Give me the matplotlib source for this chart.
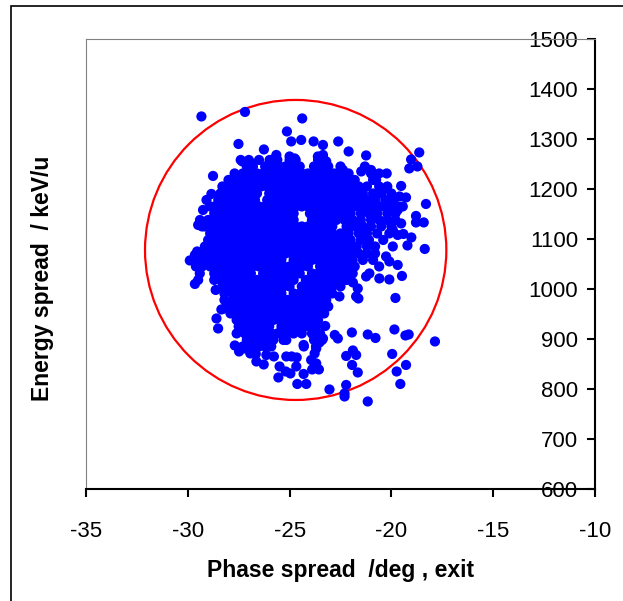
import numpy as np
import matplotlib
matplotlib.use("Agg")
from matplotlib import pyplot as plt
from matplotlib.patches import Ellipse, Rectangle

# energy levels (keV/u) of the dense part of the bunch, one row of phases per level
row_energy = [1258, 1245, 1231, 1218, 1205, 1191, 1178, 1165, 1151, 1138,
              1125, 1111, 1098, 1085, 1071, 1058, 1045, 1031, 1018, 1005,
              991, 978, 965, 951, 938, 925, 911, 898, 885]
row_phase = [
    [-27.4, -27.0, -26.5, -25.9, -25.6, -25.0, -24.7, -23.6, -23.3],
    [-27.1, -26.8, -26.2, -25.8, -25.5, -25.2, -24.9, -24.5, -23.8, -23.4, -23.1, -22.5, -21.3],
    [-27.7, -27.3, -26.9, -26.6, -26.3, -26.0, -25.7, -25.4, -25.1, -24.8, -24.4, -24.1,
     -23.8, -23.5, -23.1, -22.8, -22.4, -22.1, -21.0, -20.6],
    [-28.0, -27.6, -27.3, -27.0, -26.7, -26.4, -26.1, -25.8, -25.5, -25.2, -24.9, -24.6,
     -24.3, -24.0, -23.7, -23.4, -23.0, -22.6, -22.2, -21.8, -20.9],
    [-28.3, -27.9, -27.6, -27.3, -27.0, -26.7, -26.4, -26.1, -25.8, -25.5, -25.2, -24.9,
     -24.6, -24.3, -24.0, -23.7, -23.4, -23.1, -22.8, -22.4, -22.0, -21.6, -21.2, -20.6,
     -20.2],
    [-28.4, -28.1, -27.8, -27.5, -27.2, -26.9, -26.6, -26.0, -25.7, -25.4, -25.1, -24.8,
     -24.5, -24.2, -23.9, -23.6, -23.3, -23.0, -22.6, -22.2, -21.8, -21.4, -20.9, -20.5,
     -20.0],
    [-28.5, -28.2, -27.9, -27.6, -27.3, -27.0, -26.7, -26.1, -25.8, -25.5, -25.2, -24.9,
     -24.6, -24.3, -24.0, -23.7, -23.4, -23.1, -22.8, -22.4, -22.0, -21.6, -21.2, -20.8,
     -20.3, -19.9],
    [-28.9, -28.6, -28.3, -28.0, -27.7, -27.4, -27.1, -26.8, -26.5, -26.2, -25.9, -25.6,
     -25.3, -25.0, -24.7, -24.4, -24.1, -23.8, -23.5, -23.2, -22.9, -22.5, -22.1, -21.7,
     -21.3, -20.9, -20.5, -20.1, -19.7],
    [-28.7, -28.4, -28.1, -27.8, -27.5, -27.2, -26.9, -26.6, -26.3, -26.0, -25.7, -25.4,
     -25.1, -24.8, -24.0, -23.7, -23.4, -23.1, -22.8, -22.4, -22.0, -21.5, -21.1, -20.7,
     -20.2, -19.8],
    [-29.4, -29.0, -28.7, -28.4, -28.1, -27.8, -27.5, -27.2, -26.9, -26.6, -26.3, -26.0,
     -25.7, -25.4, -25.1, -24.8, -23.9, -23.6, -23.3, -23.0, -22.7, -22.3, -21.9, -21.5,
     -21.0, -20.6, -20.2, -19.8],
    [-29.3, -28.9, -28.6, -28.3, -28.0, -27.7, -27.4, -27.1, -26.8, -26.5, -26.2, -25.9,
     -25.6, -25.3, -25.0, -24.7, -24.4, -24.1, -23.8, -23.5, -23.2, -22.9, -22.2, -21.8,
     -21.4, -21.0, -20.5, -20.0],
    [-28.9, -28.6, -28.3, -28.0, -27.7, -27.4, -27.1, -26.8, -26.5, -26.2, -25.9, -25.6,
     -25.3, -25.0, -24.7, -24.4, -24.1, -23.8, -23.5, -23.2, -22.9, -22.5, -22.1, -21.6,
     -21.2, -20.7, -20.1],
    [-29.0, -28.6, -28.3, -28.0, -27.7, -27.4, -27.1, -26.8, -26.5, -26.2, -25.9, -25.6,
     -25.3, -25.0, -24.7, -24.4, -24.1, -23.8, -23.5, -23.2, -22.8, -22.4, -22.0, -21.5,
     -21.1, -20.4],
    [-28.9, -28.6, -28.3, -28.0, -27.7, -27.4, -27.1, -26.8, -26.5, -26.2, -25.9, -25.6,
     -25.3, -25.0, -24.7, -24.4, -24.1, -23.8, -23.5, -23.2, -22.9, -22.5, -22.1, -21.7,
     -21.2, -20.8],
    [-29.4, -29.1, -28.8, -28.5, -28.2, -27.9, -27.6, -27.3, -27.0, -26.7, -26.4, -26.1,
     -25.8, -25.5, -25.2, -24.9, -24.6, -24.3, -24.0, -23.7, -23.4, -23.1, -22.8, -22.4,
     -22.0, -21.6, -21.2, -20.8],
    [-29.6, -29.3, -28.7, -28.4, -28.1, -27.8, -27.5, -27.2, -26.9, -26.6, -26.3, -26.0,
     -25.7, -25.4, -24.8, -24.5, -24.2, -23.9, -23.6, -23.3, -23.0, -22.7, -22.3, -21.9,
     -21.4, -20.9],
    [-29.3, -28.9, -28.6, -28.3, -28.0, -27.7, -27.4, -27.1, -26.8, -26.5, -26.2, -25.9,
     -25.6, -25.3, -25.0, -24.7, -24.4, -24.1, -23.5, -23.2, -22.9, -22.6, -22.2, -21.8,
     -20.6],
    [-28.7, -28.4, -28.1, -27.8, -27.5, -27.2, -26.9, -26.3, -26.0, -25.7, -25.4, -25.1,
     -24.8, -24.5, -23.9, -23.6, -23.3, -23.0, -22.7, -22.3, -21.9],
    [-28.7, -28.4, -28.1, -27.8, -27.5, -27.2, -26.9, -26.6, -26.3, -26.0, -25.7, -25.4,
     -25.1, -24.8, -24.2, -23.9, -23.6, -23.3, -23.0, -22.6, -22.2],
    [-28.3, -28.0, -27.7, -27.4, -27.1, -26.8, -26.5, -26.2, -25.9, -25.6, -25.3, -25.0,
     -24.4, -24.1, -23.8, -23.5, -23.2, -22.9, -22.5],
    [-28.2, -27.8, -27.5, -27.2, -26.9, -26.6, -26.3, -26.0, -25.7, -25.4, -24.8, -24.5,
     -24.2, -23.9, -23.6, -23.3, -22.9],
    [-28.2, -27.8, -27.5, -27.2, -26.9, -26.6, -26.3, -26.0, -25.7, -25.4, -25.1, -24.8,
     -24.5, -24.2, -23.9, -23.6, -23.2],
    [-28.0, -27.7, -27.4, -27.1, -26.8, -26.5, -26.2, -25.9, -25.6, -25.3, -25.0, -24.7,
     -24.4, -24.1, -23.8, -23.5, -23.1],
    [-27.9, -27.6, -27.3, -27.0, -26.7, -26.4, -26.1, -25.8, -25.5, -25.2, -24.9, -24.6,
     -24.3, -24.0, -23.7, -23.3],
    [-27.6, -27.3, -27.0, -26.7, -26.4, -26.1, -25.8, -25.5, -25.2, -24.9, -24.6, -24.3,
     -24.0, -23.6],
    [-27.5, -27.2, -26.9, -26.6, -26.3, -26.0, -25.4, -25.1, -24.8, -24.5, -24.1, -23.7],
    [-27.6, -27.2, -26.8, -26.5, -26.2, -25.9, -25.6, -25.2, -24.8, -24.4, -23.9, -23.5],
    [-27.1, -26.7, -26.4, -26.1, -25.8, -25.3, -23.8, -23.4],
    [-27.3, -26.9, -26.5, -26.2, -25.9, -24.3, -23.7],
]

# scattered particles around the core
halo_phase = [-29.33, -27.19, -24.38, -25.13, -24.92, -24.43, -23.82, -23.36, -22.61, -22.10,
              -21.24, -27.51, -26.26, -18.63, -19.03, -19.12, -18.72, -18.30, -18.36, -18.79,
              -18.41, -18.79, -19.02, -19.21, -19.41, -19.52, -20.23, -19.28, -19.48, -19.80,
              -19.85, -19.15, -19.31, -17.86, -19.96, -19.28, -19.74, -19.56, -21.16, -21.94,
              -21.16, -20.78, -22.22, -21.89, -21.73, -21.93, -21.65, -22.22, -22.30, -22.30,
              -23.04, -22.78, -22.63, -23.25, -24.18, -24.62, -24.31, -25.55, -24.96, -24.67,
              -25.19, -25.49, -24.90, -24.65, -25.16, -26.14, -25.77, -26.27, -26.63, -24.31,
              -25.16, -23.69, -23.56, -23.89, -23.94, -23.77, -23.69, -23.53, -23.36, -27.69,
              -27.48, -27.20, -26.93, -26.66, -28.59, -28.51, -28.35, -28.18, -28.63, -29.65,
              -29.49, -29.41, -29.60, -29.90, -29.65, -29.54, -29.08, -29.00, -28.76, -28.43,
              -29.16, -28.84, -29.49, -29.16, -29.25, -28.84, -29.08, -28.76, -28.63, -27.32,
              -26.88, -25.98, -25.65, -26.14, -25.00, -24.75, -23.61, -23.36, -23.20, -23.53,
              -22.38, -22.22, -21.48, -21.00, -20.75, -20.39, -19.60, -19.69, -19.44, -19.52,
              -19.93, -19.69, -19.93, -20.26, -20.10, -19.69, -20.59, -20.10, -21.08, -21.24,
              -21.89, -21.65, -22.55, -21.73, -21.62]
halo_energy = [1345, 1354, 1341, 1315, 1295, 1298, 1295, 1288, 1295, 1275,
               1267, 1290, 1279, 1273, 1259, 1241, 1245, 1170, 1080, 1146,
               1133, 1133, 1103, 1087, 1110, 1206, 1231, 1183, 1026, 982,
               919, 909, 907, 895, 870, 848, 835, 810, 775, 913,
               909, 902, 866, 877, 868, 848, 833, 808, 791, 785,
               799, 908, 901, 926, 810, 810, 830, 823, 831, 845,
               835, 845, 865, 863, 865, 868, 865, 849, 855, 888,
               898, 851, 839, 839, 858, 871, 881, 893, 901, 887,
               875, 881, 871, 870, 941, 921, 959, 961, 998, 1010,
               1018, 1031, 1045, 1057, 1068, 1075, 1058, 1051, 1065, 1068,
               1085, 1095, 1128, 1125, 1158, 1190, 1178, 1226, 1166, 1255,
               1251, 1258, 1268, 1245, 1265, 1261, 1265, 1268, 1255, 1245,
               1238, 1228, 1235, 1238, 1218, 1199, 1185, 1158, 1165, 1131,
               1118, 1108, 1085, 1065, 1055, 1048, 1021, 1019, 1031, 1025,
               1013, 1001, 985, 985, 981]

# acceptance ellipse: centre (deg, keV/u) and full widths
acc_centre = (-24.7, 1078)
acc_width = 14.8
acc_height = 600

x_ticks = [-35, -30, -25, -20, -15, -10]
y_ticks = [600, 700, 800, 900, 1000, 1100, 1200, 1300, 1400, 1500]

plt.rcParams['font.family'] = ['Liberation Sans', 'DejaVu Sans']
plt.rcParams['axes.unicode_minus'] = False

phase = np.concatenate(row_phase + [halo_phase])
energy = np.concatenate([np.full(len(r), e) for r, e in zip(row_phase, row_energy)] + [halo_energy])

fig = plt.figure(figsize=(6.23, 6.01), dpi=100)
ax = fig.add_axes([0.138, 0.1864, 0.817, 0.7488])

ax.add_patch(Ellipse(acc_centre, acc_width, acc_height, fill=False,
                     edgecolor='#ff0000', lw=1.6, zorder=2))
ax.scatter(phase, energy, s=54, color='#0000ff', edgecolors='none', zorder=3)

ax.set_xlim(-35, -10)
ax.set_ylim(600, 1500)
ax.set_xticks(x_ticks)
ax.set_yticks(y_ticks)

# value axis sits on the right edge, plot-area border in grey on the other sides
ax.spines['left'].set_position(('data', -10))
ax.spines['left'].set_linewidth(1.5)
ax.spines['bottom'].set_linewidth(1.5)
ax.spines['right'].set_position(('data', -35))
ax.spines['right'].set_color('#808080')
ax.spines['right'].set_linewidth(0.8)
ax.spines['top'].set_color('#808080')
ax.spines['top'].set_linewidth(0.8)
ax.yaxis.set_ticks_position('left')
ax.xaxis.set_ticks_position('bottom')
ax.tick_params(axis='y', direction='out', length=6, width=1.5, pad=6, labelsize=16)
ax.tick_params(axis='x', direction='out', length=6, width=1.5, pad=17, labelsize=16)

ax.set_xlabel('Phase spread  /deg , exit', fontsize=16.5, fontweight='bold')
ax.set_ylabel('Energy spread  / keV/u', fontsize=16.5, fontweight='bold')
ax.xaxis.set_label_coords(0.501, -0.155)
ax.yaxis.set_label_coords(-0.062, 0.469)

# outer chart frame
fig.patches.append(Rectangle((0.018, -0.5), 2.0, 1.49, transform=fig.transFigure,
                             fill=False, edgecolor='black', lw=1.2))

fig.savefig('out.png', dpi=100)
